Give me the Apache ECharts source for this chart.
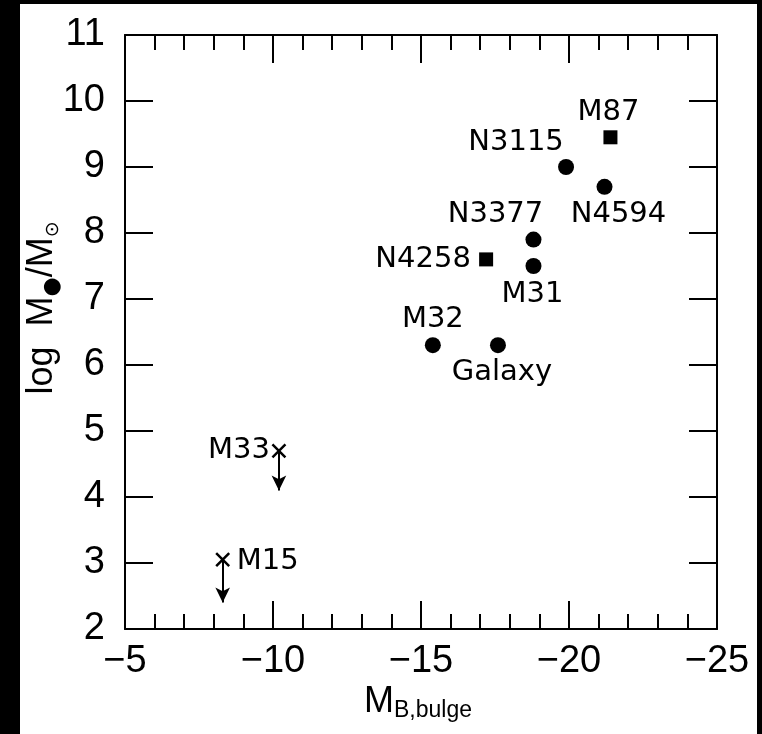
<!DOCTYPE html>
<html><head><meta charset="utf-8">
<script src="https://cdn.jsdelivr.net/npm/echarts@6/dist/echarts.min.js"></script>
<style>
html,body{margin:0;padding:0;background:#000;width:762px;height:734px;overflow:hidden}
#paper{position:absolute;left:20px;top:4px;width:737px;height:730px;background:#fff}
#chart{position:absolute;left:0;top:0;width:762px;height:734px}
</style></head><body>
<div id="paper"></div><div id="chart"></div>
<script>
// ---- data ----
const circleNames = ['N3115', 'N4594', 'N3377', 'M31', 'M32', 'Galaxy'];
const circleMag   = [-19.9, -21.2, -18.8, -18.8, -15.4, -17.6];
const circleLogM  = [9.0, 8.7, 7.9, 7.5, 6.3, 6.3];
const squareNames = ['M87', 'N4258'];
const squareMag   = [-21.4, -17.2];
const squareLogM  = [9.45, 7.6];
const limitNames  = ['M33', 'M15'];
const limitMag    = [-10.2, -8.3];
const limitLogM   = [4.7, 3.05];
const limitArrowTo = [4.1, 2.4];
const xTickValues = [-5, -10, -15, -20, -25];
const yTickValues = [2, 3, 4, 5, 6, 7, 8, 9, 10, 11];

// ---- label placement (style, not data) ----
const labelOffset = {
  'M87': [-2, -25], 'N3115': [-50, -25], 'N4594': [14, 28], 'N3377': [-38, -25],
  'N4258': [-63, 0], 'M31': [-1, 28], 'M32': [0, -26], 'Galaxy': [4, 27],
  'M33': [-40, 0], 'M15': [45, 2]
};

const FONT = 'Liberation Sans';
const LFONT = 'DejaVu Sans';
function pts(names, xs, ys) {
  return names.map((n, i) => ({
    name: n, value: [xs[i], ys[i]],
    label: { offset: labelOffset[n] }
  }));
}
const ptLabel = { show: true, position: 'inside', formatter: '{b}', color: '#000',
  opacity: 1, fontFamily: LFONT, fontSize: 29 };

const minus = v => (v < 0 ? '\u2212' + Math.abs(v) : String(v));
const axisLine = { show: true, onZero: false, lineStyle: { color: '#000', width: 2 } };
const tickStyle = { color: '#000', width: 2 };

const chart = echarts.init(document.getElementById('chart'), null, { renderer: 'canvas' });
chart.setOption({
  animation: false,
  backgroundColor: 'transparent',
  grid: { left: 125, right: 45, top: 35, bottom: 105 },
  xAxis: [
    { type: 'value', min: -25, max: -5, interval: 5, inverse: true, position: 'bottom',
      axisLine, splitLine: { show: false },
      axisTick: { inside: true, length: 28, lineStyle: tickStyle },
      minorTick: { show: true, splitNumber: 5, length: 15, lineStyle: tickStyle },
      axisLabel: { margin: 14, color: '#000', fontFamily: FONT, fontSize: 38,
        formatter: v => xTickValues.includes(v) ? minus(v) : '' } },
    { type: 'value', min: -25, max: -5, interval: 5, inverse: true, position: 'top',
      axisLine, splitLine: { show: false },
      axisTick: { inside: true, length: 28, lineStyle: tickStyle },
      minorTick: { show: true, splitNumber: 5, length: 15, lineStyle: tickStyle },
      axisLabel: { show: false } }
  ],
  yAxis: [
    { type: 'value', min: 2, max: 11, interval: 1, position: 'left',
      axisLine, splitLine: { show: false },
      axisTick: { inside: true, length: 28, lineStyle: tickStyle },
      axisLabel: { margin: 20, color: '#000', fontFamily: FONT, fontSize: 38,
        formatter: v => yTickValues.includes(v) ? String(v) : '' } },
    { type: 'value', min: 2, max: 11, interval: 1, position: 'right',
      axisLine, splitLine: { show: false },
      axisTick: { inside: true, length: 28, lineStyle: tickStyle },
      axisLabel: { show: false } }
  ],
  graphic: [
    { type: 'text', x: 42, y: 308, rotation: Math.PI / 2, silent: true,
      style: { text: '{a|log}{sp|}{a|M}{b|●}{a|/M}{c|⊙}', align: 'center', verticalAlign: 'middle',
        rich: {
          a: { fontFamily: FONT, fontSize: 36, lineHeight: 42, color: '#000' },
          sp: { width: 20, lineHeight: 42 },
          b: { fontFamily: 'DejaVu Sans', fontSize: 22, lineHeight: 26, verticalAlign: 'bottom', color: '#000' },
          c: { fontFamily: 'DejaVu Sans', fontSize: 19, lineHeight: 24, verticalAlign: 'bottom', color: '#000' }
        } } },
    { type: 'text', x: 418, y: 702, silent: true,
      style: { text: '{m|M}{s|B,bulge}', align: 'center', verticalAlign: 'middle',
        rich: {
          m: { fontFamily: FONT, fontSize: 36, lineHeight: 40, color: '#000' },
          s: { fontFamily: FONT, fontSize: 23, lineHeight: 22, verticalAlign: 'bottom', color: '#000' }
        } } }
  ],
  series: [
    { type: 'scatter', xAxisIndex: 0, yAxisIndex: 0, symbol: 'circle', symbolSize: 16,
      itemStyle: { color: '#000', opacity: 1 }, label: ptLabel, emphasis: { disabled: true },
      data: pts(circleNames, circleMag, circleLogM) },
    { type: 'scatter', xAxisIndex: 0, yAxisIndex: 0, symbol: 'rect', symbolSize: 14,
      itemStyle: { color: '#000', opacity: 1 }, label: ptLabel, emphasis: { disabled: true },
      data: pts(squareNames, squareMag, squareLogM) },
    { type: 'scatter', xAxisIndex: 0, yAxisIndex: 0,
      symbol: 'path://M0,0L10,10M10,0L0,10', symbolSize: 13,
      itemStyle: { color: 'rgba(0,0,0,0)', borderColor: '#000', borderWidth: 2.5, opacity: 1 },
      label: ptLabel, emphasis: { disabled: true },
      data: pts(limitNames, limitMag, limitLogM),
      markLine: { silent: true, symbol: ['none', 'arrow'], symbolSize: [11, 15],
        label: { show: false }, emphasis: { disabled: true },
        lineStyle: { color: '#000', width: 2, type: 'solid', opacity: 1 },
        data: limitMag.map((x, i) => [{ coord: [x, limitLogM[i]] }, { coord: [x, limitArrowTo[i]] }]) } }
  ]
});
</script>
</body></html>
